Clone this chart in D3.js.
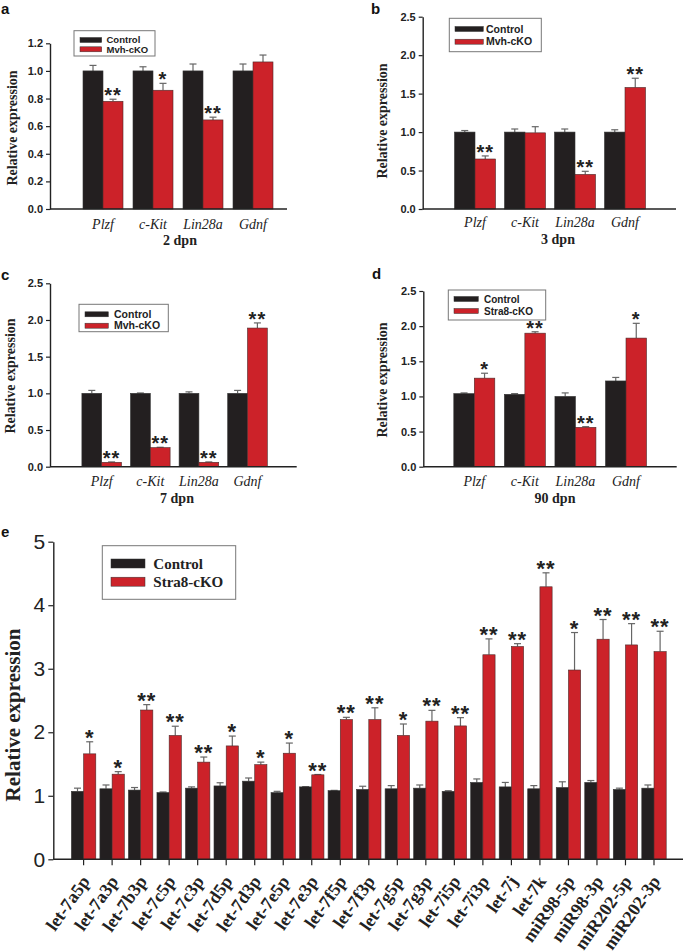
<!DOCTYPE html>
<html><head><meta charset="utf-8">
<script src="https://cdn.jsdelivr.net/npm/d3@7"></script>
<style>body{margin:0;background:#fff}svg{display:block}</style>
</head><body><svg id="c" width="685" height="952"></svg>
<script>
// ---------- data ----------
const genes = ["Plzf", "c-Kit", "Lin28a", "Gdnf"];

const aCtrl = [1.0, 1.0, 1.0, 1.0];
const aCtrlErr = [0.04, 0.03, 0.05, 0.05];
const aKO = [0.78, 0.86, 0.645, 1.065];
const aKOErr = [0.015, 0.05, 0.02, 0.05];
const aStars = ["**", "*", "**", ""];

const bCtrl = [1.0, 1.0, 1.0, 1.0];
const bCtrlErr = [0.02, 0.04, 0.04, 0.03];
const bKO = [0.65, 0.99, 0.45, 1.58];
const bKOErr = [0.04, 0.08, 0.04, 0.12];
const bStars = ["**", "", "**", "**"];

const cCtrl = [1.0, 1.0, 1.0, 1.0];
const cCtrlErr = [0.04, 0.005, 0.02, 0.04];
const cKO = [0.06, 0.26, 0.06, 1.89];
const cKOErr = [0.005, 0.005, 0.005, 0.07];
const cStars = ["**", "**", "**", "**"];

const dCtrl = [1.04, 1.03, 1.0, 1.22];
const dCtrlErr = [0.01, 0.01, 0.05, 0.05];
const dKO = [1.26, 1.90, 0.56, 1.83];
const dKOErr = [0.07, 0.02, 0.01, 0.21];
const dStars = ["*", "**", "**", "*"];

const mirs = ["let-7a5p","let-7a3p","let-7b3p","let-7c5p","let-7c3p","let-7d5p","let-7d3p","let-7e5p","let-7e3p","let-7f5p","let-7f3p","let-7g5p","let-7g3p","let-7i5p","let-7i3p","let-7j","let-7k","miR98-5p","miR98-3p","miR202-5p","miR202-3p"];
const eCtrl = [1.07,1.11,1.09,1.05,1.12,1.155,1.23,1.05,1.14,1.08,1.10,1.11,1.12,1.07,1.21,1.14,1.11,1.13,1.21,1.10,1.12];
const eCtrlErr = [0.05,0.06,0.04,0.01,0.02,0.05,0.05,0.02,0.005,0.005,0.05,0.05,0.05,0.01,0.055,0.07,0.05,0.09,0.03,0.02,0.05];
const eKO = [1.66,1.34,2.35,1.95,1.53,1.785,1.49,1.67,1.33,2.2,2.2,1.95,2.175,2.1,3.22,3.35,4.29,2.98,3.465,3.375,3.27];
const eKOErr = [0.19,0.04,0.085,0.145,0.08,0.155,0.04,0.16,0.005,0.035,0.185,0.18,0.17,0.13,0.25,0.045,0.22,0.59,0.31,0.335,0.32];
const eStars = ["*","*","**","**","**","*","*","*","**","**","**","*","**","**","**","**","**","*","**","**","**"];

const ticks12 = [0, 0.2, 0.4, 0.6, 0.8, 1.0, 1.2];
const ticks25 = [0, 0.5, 1.0, 1.5, 2.0, 2.5];
const ticks5 = [0, 1, 2, 3, 4, 5];

// ---------- style ----------
const RED = "#cc2229", BLACK = "#231f20", ERR = "#666";
const SANS = "'Liberation Sans', Arial, sans-serif";
const SERIF = "'Liberation Serif', 'Times New Roman', serif";

const svg = d3.select("#c");

function panel(o) {
  const g = svg.append("g");
  const y = d3.scaleLinear().domain([0, o.max]).range([o.y0, o.yTop]);
  const x = d3.scalePoint().domain(o.cats).range([o.c0, o.c1]);
  const bw = o.bw;
  const rows = o.cats.map((c, i) => ({c, i, ctrl: o.ctrl[i], ce: o.ctrlErr[i], ko: o.ko[i], ke: o.koErr[i], s: o.stars[i]}));

  // error bars (behind bars)
  const eb = (cx, v, e) => {
    g.append("line").attr("x1", cx).attr("x2", cx).attr("y1", y(v)).attr("y2", y(v + e))
      .attr("stroke", ERR).attr("stroke-width", o.ebw);
    g.append("line").attr("x1", cx - o.cap / 2).attr("x2", cx + o.cap / 2).attr("y1", y(v + e)).attr("y2", y(v + e))
      .attr("stroke", ERR).attr("stroke-width", o.ebw);
  };
  rows.forEach(r => { eb(x(r.c) - bw / 2, r.ctrl, r.ce); eb(x(r.c) + bw / 2, r.ko, r.ke); });

  g.selectAll(".bc").data(rows).join("rect")
    .attr("x", d => x(d.c) - bw).attr("width", bw)
    .attr("y", d => y(d.ctrl)).attr("height", d => y(0) - y(d.ctrl))
    .attr("fill", BLACK).attr("stroke", "#333").attr("stroke-width", 0.6);
  g.selectAll(".bk").data(rows).join("rect")
    .attr("x", d => x(d.c)).attr("width", bw)
    .attr("y", d => y(d.ko)).attr("height", d => y(0) - y(d.ko))
    .attr("fill", RED).attr("stroke", "#4a2a2a").attr("stroke-width", 0.6);

  // stars
  g.selectAll(".st").data(rows).join("text")
    .attr("x", d => x(d.c) + bw / 2).attr("y", d => y(d.ko + d.ke) + 3)
    .attr("text-anchor", "middle").attr("font-family", SANS).attr("font-weight", "bold")
    .attr("font-size", o.starSize).attr("letter-spacing", o.starSpace).attr("fill", "#222")
    .text(d => d.s);

  // y axis
  const ya = d3.axisLeft(y).tickValues(o.ticks).tickSize(o.tick).tickSizeOuter(0).tickPadding(3)
    .tickFormat(o.fmt);
  const yg = g.append("g").attr("transform", `translate(${o.x0},0)`).call(ya);
  yg.select(".domain").attr("stroke", "#222").attr("stroke-width", 1.4);
  yg.selectAll(".tick line").attr("stroke", "#222").attr("stroke-width", 1.2);
  yg.selectAll(".tick text").attr("font-family", SANS).attr("font-weight", o.yfw)
    .attr("font-size", o.yfs).attr("fill", "#222");

  // x axis line
  g.append("line").attr("x1", o.x0).attr("x2", o.x1).attr("y1", o.y0).attr("y2", o.y0)
    .attr("stroke", "#222").attr("stroke-width", 1.4);

  // y label
  g.append("text").attr("transform", `translate(${o.ylx},${o.yly}) rotate(-90)`)
    .attr("text-anchor", "middle").attr("font-family", SERIF).attr("font-weight", "bold")
    .attr("font-size", o.ylfs).attr("fill", "#222").text("Relative expression");

  // panel letter
  g.append("text").attr("x", o.lx).attr("y", o.ly).attr("font-family", SANS).attr("font-weight", "bold")
    .attr("font-size", 15).attr("fill", "#111").text(o.letter);

  // legend
  const L = o.leg;
  g.append("rect").attr("x", L.x).attr("y", L.y).attr("width", L.w).attr("height", L.h)
    .attr("fill", "#fff").attr("stroke", "#777").attr("stroke-width", 1);
  [[BLACK, "Control", L.r1], [RED, o.koName, L.r2]].forEach(([col, name, cy]) => {
    g.append("rect").attr("x", L.sx).attr("y", cy - L.sh / 2).attr("width", L.sw).attr("height", L.sh)
      .attr("fill", col).attr("stroke", "#333").attr("stroke-width", 0.5);
    g.append("text").attr("x", L.tx).attr("y", cy).attr("dy", "0.35em")
      .attr("font-family", L.font).attr("font-weight", "bold").attr("font-size", L.fs)
      .attr("fill", "#222").text(name);
  });
  return {g, x, y};
}

function geneLabels(p, o) {
  p.g.selectAll(".xl").data(o.cats).join("text")
    .attr("x", d => p.x(d)).attr("y", o.y0 + o.xlOff)
    .attr("text-anchor", "middle").attr("font-family", SERIF).attr("font-style", "italic")
    .attr("font-size", 14).attr("fill", "#222").text(d => d);
  p.g.append("text").attr("x", o.tx).attr("y", o.y0 + o.tOff).attr("text-anchor", "middle")
    .attr("font-family", SERIF).attr("font-weight", "bold").attr("font-size", 14)
    .attr("fill", "#222").text(o.title);
}

const f1 = d3.format(".1f");

// panel a
const oa = {cats: genes, ctrl: aCtrl, ctrlErr: aCtrlErr, ko: aKO, koErr: aKOErr, stars: aStars,
  max: 1.2, ticks: ticks12, fmt: f1, x0: 50, x1: 287, y0: 209, yTop: 43.3, c0: 103, c1: 253, bw: 20,
  cap: 7, ebw: 1.2, starSize: 20, starSpace: 1, tick: 4, yfw: "bold", yfs: 11,
  ylx: 17, yly: 128, ylfs: 14, lx: 1, ly: 14, letter: "a", koName: "Mvh-cKO",
  leg: {x: 74, y: 30.7, w: 81, h: 25.3, sx: 80, sw: 21.7, sh: 5, tx: 106.5, r1: 40, r2: 49.3, fs: 9.5, font: SANS},
  xlOff: 20, tOff: 36, tx: 180, title: "2 dpn"};
geneLabels(panel(oa), oa);

// panel b
const ob = {cats: genes, ctrl: bCtrl, ctrlErr: bCtrlErr, ko: bKO, koErr: bKOErr, stars: bStars,
  max: 2.5, ticks: ticks25, fmt: f1, x0: 422.7, x1: 676, y0: 209, yTop: 16.7, c0: 475, c1: 625, bw: 20.5,
  cap: 7, ebw: 1.2, starSize: 20, starSpace: 1, tick: 4, yfw: "bold", yfs: 11,
  ylx: 386.5, yly: 121, ylfs: 14, lx: 371, ly: 14, letter: "b", koName: "Mvh-cKO",
  leg: {x: 449.3, y: 18.3, w: 92, h: 33.4, sx: 455, sw: 28.3, sh: 5, tx: 486, r1: 29, r2: 41.7, fs: 10.5, font: SANS},
  xlOff: 18, tOff: 35, tx: 558, title: "3 dpn"};
geneLabels(panel(ob), ob);

// panel c
const oc = {cats: genes, ctrl: cCtrl, ctrlErr: cCtrlErr, ko: cKO, koErr: cKOErr, stars: cStars,
  max: 2.5, ticks: ticks25, fmt: f1, x0: 50, x1: 296.7, y0: 466.7, yTop: 283.3, c0: 101.7, c1: 247.5, bw: 19.8,
  cap: 7, ebw: 1.2, starSize: 20, starSpace: 1, tick: 4, yfw: "bold", yfs: 11,
  ylx: 15, yly: 376, ylfs: 14, lx: 1, ly: 280, letter: "c", koName: "Mvh-cKO",
  leg: {x: 79, y: 304.3, w: 89.3, h: 27.4, sx: 85, sw: 23.3, sh: 5, tx: 114, r1: 314.3, r2: 325.7, fs: 10.5, font: SANS},
  xlOff: 19.5, tOff: 36, tx: 177, title: "7 dpn"};
geneLabels(panel(oc), oc);

// panel d
const od = {cats: genes, ctrl: dCtrl, ctrlErr: dCtrlErr, ko: dKO, koErr: dKOErr, stars: dStars,
  max: 2.5, ticks: ticks25, fmt: f1, x0: 423.3, x1: 676.7, y0: 466.7, yTop: 291, c0: 474.3, c1: 626, bw: 20.5,
  cap: 7, ebw: 1.2, starSize: 20, starSpace: 1, tick: 4, yfw: "bold", yfs: 11,
  ylx: 386.5, yly: 380, ylfs: 14, lx: 372, ly: 279, letter: "d", koName: "Stra8-cKO",
  leg: {x: 448.3, y: 290, w: 97.4, h: 30, sx: 454, sw: 24.3, sh: 5, tx: 484, r1: 299, r2: 311, fs: 10, font: SANS},
  xlOff: 19.5, tOff: 36, tx: 555, title: "90 dpn"};
geneLabels(panel(od), od);

// panel e
const oe = {cats: mirs, ctrl: eCtrl, ctrlErr: eCtrlErr, ko: eKO, koErr: eKOErr, stars: eStars,
  max: 5, ticks: ticks5, fmt: d3.format("d"), x0: 53.3, x1: 683, y0: 859.3, yTop: 541.7, c0: 83.6, c1: 654, bw: 12.2,
  cap: 7, ebw: 1.2, starSize: 22, starSpace: 1, tick: 5, yfw: "normal", yfs: 21,
  ylx: 20, yly: 715, ylfs: 21, lx: 1, ly: 537, letter: "e", koName: "Stra8-cKO",
  leg: {x: 102.3, y: 545.7, w: 133.4, h: 53.6, sx: 111, sw: 34, sh: 9, tx: 153.3, r1: 563.5, r2: 581.7, fs: 15, font: SERIF}};
const pe = panel(oe);
// x ticks for panel e
pe.g.selectAll(".xt").data(mirs).join("line")
  .attr("x1", d => pe.x(d)).attr("x2", d => pe.x(d))
  .attr("y1", oe.y0).attr("y2", oe.y0 + 6).attr("stroke", "#222").attr("stroke-width", 1.2);
pe.g.selectAll(".xl").data(mirs).join("text")
  .attr("transform", d => `translate(${pe.x(d) + 7},${oe.y0 + 22}) rotate(-55)`)
  .attr("text-anchor", "end").attr("font-family", SERIF).attr("font-weight", "bold")
  .attr("font-size", 18).attr("fill", "#222").text(d => d);
</script>
</body></html>
